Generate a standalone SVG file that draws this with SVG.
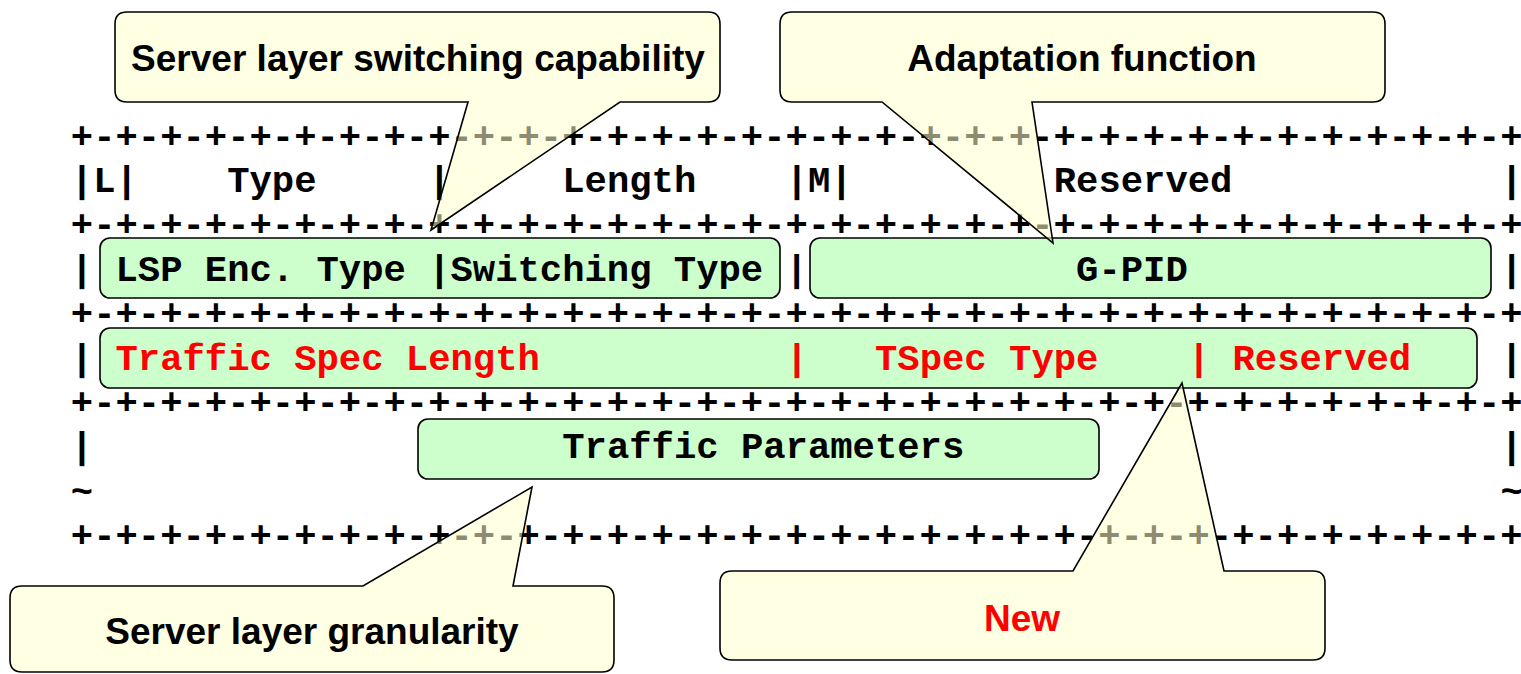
<svg xmlns="http://www.w3.org/2000/svg" width="1521" height="674" viewBox="0 0 1521 674">
<style>
.bg{fill:#ffffff}
.box{fill:#CCFFCC;stroke:#000;stroke-width:1.6}
.call{fill:#FFFFCC;fill-opacity:0.55;stroke:#000;stroke-width:1.6;stroke-linejoin:miter}
.m{font-family:"Liberation Mono","Courier New",monospace;font-weight:bold;font-size:37.23px;fill:#000}
.r{fill:#FF0000}
.ct{font-family:"Liberation Sans",Arial,sans-serif;font-weight:bold;font-size:37px;fill:#000;text-anchor:middle}
</style>
<rect class="bg" x="0" y="0" width="1521" height="674"/>
<g id="fields">
<rect id="box-lsp" class="box" x="100" y="238" width="680" height="60" rx="10"/>
<rect id="box-gpid" class="box" x="810" y="238" width="681" height="60" rx="10"/>
<rect id="box-tspec" class="box" x="100" y="328" width="1377" height="60" rx="10"/>
<rect id="box-params" class="box" x="418" y="419" width="681" height="60" rx="10"/>
</g>
<g id="ascii" class="m">
<text x="70.8" y="147.6">+-+-+-+-+-+-+-+-+-+-+-+-+-+-+-+-+-+-+-+-+-+-+-+-+-+-+-+-+-+-+-+-+</text>
<text x="70.8" y="192">|L|</text>
<text x="227.18" y="192">Type</text>
<text x="428.24" y="192">|</text>
<text x="562.28" y="192">Length</text>
<text x="785.68" y="192">|M|</text>
<text x="1053.76" y="192">Reserved</text>
<text x="1500.56" y="192">|</text>
<text x="70.8" y="236.4">+-+-+-+-+-+-+-+-+-+-+-+-+-+-+-+-+-+-+-+-+-+-+-+-+-+-+-+-+-+-+-+-+</text>
<text x="70.8" y="280.8">|</text>
<text x="115.48" y="280.8" xml:space="preserve">LSP Enc. Type |Switching Type |</text>
<text x="1076.1" y="280.8">G-PID</text>
<text x="1500.56" y="280.8">|</text>
<text x="70.8" y="325.2">+-+-+-+-+-+-+-+-+-+-+-+-+-+-+-+-+-+-+-+-+-+-+-+-+-+-+-+-+-+-+-+-+</text>
<text x="70.8" y="369.6">|</text>
<text class="m r" x="115.48" y="369.6">Traffic Spec Length</text>
<text class="m r" x="785.68" y="369.6">|</text>
<text class="m r" x="875.04" y="369.6">TSpec Type</text>
<text class="m r" x="1187.8" y="369.6">|</text>
<text class="m r" x="1232.48" y="369.6">Reserved</text>
<text x="1500.56" y="369.6">|</text>
<text x="70.8" y="414">+-+-+-+-+-+-+-+-+-+-+-+-+-+-+-+-+-+-+-+-+-+-+-+-+-+-+-+-+-+-+-+-+</text>
<text x="70.8" y="458.4">|</text>
<text x="562.28" y="458.4">Traffic Parameters</text>
<text x="1500.56" y="458.4">|</text>
<text x="70.8" y="502.8">~</text>
<text x="1500.56" y="502.8">~</text>
<text x="70.8" y="547.2">+-+-+-+-+-+-+-+-+-+-+-+-+-+-+-+-+-+-+-+-+-+-+-+-+-+-+-+-+-+-+-+-+</text>
</g>
<g id="callout-switching">
<path class="call" d="M127,12 H708 Q720,12 720,24 V90 Q720,102 708,102 H620 L431,230 L468,102 H127 Q115,102 115,90 V24 Q115,12 127,12 Z"/>
<text class="ct" x="418" y="71">Server layer switching capability</text>
</g>
<g id="callout-adaptation">
<path class="call" d="M792,12 H1373 Q1385,12 1385,24 V90 Q1385,102 1373,102 H1032 L1053,243 L882,102 H792 Q780,102 780,90 V24 Q780,12 792,12 Z"/>
<text class="ct" x="1082" y="71">Adaptation function</text>
</g>
<g id="callout-granularity">
<path class="call" d="M22,586 H363 L532,487 L513,586 H602 Q614,586 614,598 V660 Q614,672 602,672 H22 Q10,672 10,660 V598 Q10,586 22,586 Z"/>
<text class="ct" x="312" y="644">Server layer granularity</text>
</g>
<g id="callout-new">
<path class="call" d="M732,571 H1073 L1182,383 L1224,571 H1313 Q1325,571 1325,583 V648 Q1325,660 1313,660 H732 Q720,660 720,648 V583 Q720,571 732,571 Z"/>
<text class="ct" x="1022" y="631" fill="#FF0000" style="fill:#FF0000">New</text>
</g>
</svg>
